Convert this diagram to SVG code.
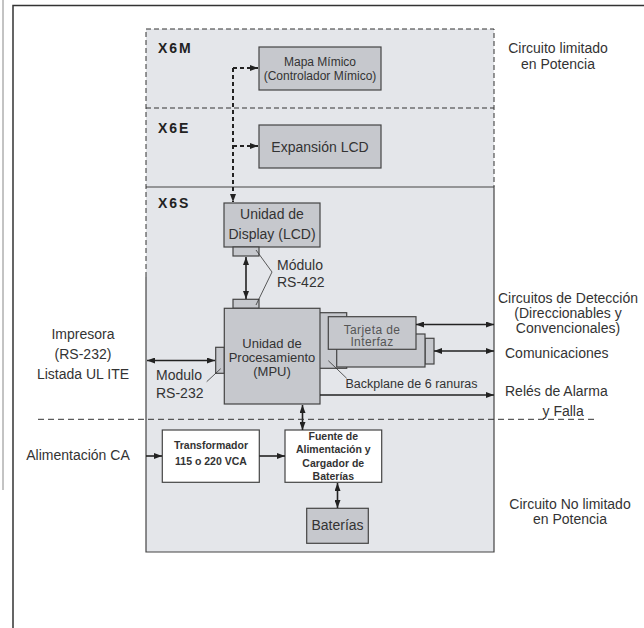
<svg xmlns="http://www.w3.org/2000/svg" width="644" height="628" viewBox="0 0 644 628">
<style>
.t{font-family:"Liberation Sans",Arial,sans-serif;fill:#333;font-size:14px}
.c{text-anchor:middle}
.b{font-weight:bold}
.xl{font-family:"Liberation Sans",Arial,sans-serif;font-weight:bold;font-size:14px;fill:#222;letter-spacing:2px}
.box{fill:#c6c8cd;stroke:#444;stroke-width:1.2}
.wbox{fill:#fff;stroke:#444;stroke-width:1.2}
.ln{stroke:#222;stroke-width:1.6;fill:none}
.thin{stroke:#333;stroke-width:0.8;fill:none}
.dsh{stroke:#333;stroke-width:1;stroke-dasharray:5 3;fill:none}
</style>
<defs>
<marker id="ah" viewBox="0 0 8 6" refX="8" refY="3" markerWidth="8" markerHeight="6" markerUnits="userSpaceOnUse" orient="auto-start-reverse">
<path d="M0,0 L8,3 L0,6 z" fill="#222"/>
</marker>
</defs>
<rect width="644" height="628" fill="#fff"/>
<line x1="3" y1="0" x2="3" y2="490" stroke="#888" stroke-width="1"/>
<path d="M13,628 V5.5 H644" fill="none" stroke="#333" stroke-width="1.5"/>

<g id="zones">
<rect x="146" y="29" width="348" height="158" fill="#e4e6ea"/>
<rect x="146" y="187" width="348" height="365" fill="#e4e6ea"/>
<path d="M146,277 V552 H494 V187 H146" fill="none" stroke="#444" stroke-width="1.2"/>
<path class="dsh" d="M146,277 V29 H494 V187"/>
<line class="dsh" x1="146" y1="108" x2="494" y2="108"/>
<text class="xl" x="158" y="53">X6M</text>
<text class="xl" x="158" y="133">X6E</text>
<text class="xl" x="158" y="207.5">X6S</text>
</g>

<g id="mapa">
<rect class="box" x="259" y="47" width="122" height="43"/>
<text class="t c" x="320" y="66" style="font-size:12px">Mapa Mímico</text>
<text class="t c" x="320" y="80" style="font-size:12px">(Controlador Mímico)</text>
</g>
<g id="expansion">
<rect class="box" x="259" y="125" width="122" height="43"/>
<text class="t c" x="320" y="151.5">Expansión LCD</text>
</g>
<g id="display">
<rect class="box" x="224" y="203" width="96" height="44"/>
<rect class="box" x="233" y="247" width="26" height="9"/>
<text class="t c" x="272" y="219">Unidad de</text>
<text class="t c" x="272" y="239">Display (LCD)</text>
</g>
<g id="cards">
<rect class="box" x="314" y="312.7" width="32.7" height="55.6"/>
<rect class="box" x="425" y="338.3" width="9" height="25.7"/>
<rect class="box" x="336.7" y="334" width="88.3" height="33"/>
<rect class="box" x="328.3" y="316.7" width="87.7" height="32.6"/>
<text class="t c" x="372" y="333.5" style="font-size:12px;fill:#555;letter-spacing:0.4px">Tarjeta de</text>
<text class="t c" x="372" y="346" style="font-size:12px;fill:#555;letter-spacing:0.4px">Interfaz</text>
</g>
<g id="mpu">
<rect class="box" x="233" y="299.3" width="26" height="9"/>
<rect class="box" x="215.7" y="347.3" width="8.6" height="26"/>
<rect class="box" x="224.3" y="308.3" width="95.7" height="95.7"/>
<text class="t c" x="272" y="347.5" style="font-size:13px">Unidad de</text>
<text class="t c" x="272" y="361.5" style="font-size:13px">Procesamiento</text>
<text class="t c" x="272" y="376" style="font-size:13px">(MPU)</text>
</g>
<g id="transformador">
<rect class="wbox" x="162.3" y="430" width="97" height="52.3"/>
<text class="t c b" x="211" y="449" style="font-size:10.5px">Transformador</text>
<text class="t c b" x="211" y="465" style="font-size:10.5px">115 o 220 VCA</text>
</g>
<g id="fuente">
<rect class="wbox" x="285" y="430" width="96.7" height="52.3"/>
<text class="t c b" x="333.3" y="439.5" style="font-size:10.5px">Fuente de</text>
<text class="t c b" x="333.3" y="453" style="font-size:10.5px">Alimentación y</text>
<text class="t c b" x="333.3" y="466.5" style="font-size:10.5px">Cargador de</text>
<text class="t c b" x="333.3" y="480" style="font-size:10.5px">Baterías</text>
</g>
<g id="baterias">
<rect class="box" x="306.7" y="508.3" width="61.6" height="35"/>
<text class="t c" x="337.5" y="530">Baterías</text>
</g>

<g id="connectors">
<path d="M233,68 V202" stroke="#222" stroke-width="2" stroke-dasharray="4 3" fill="none" marker-end="url(#ah)"/>
<path d="M233,68 H258" stroke="#222" stroke-width="2" stroke-dasharray="4 3" fill="none" marker-end="url(#ah)"/>
<path d="M233,146 H258" stroke="#222" stroke-width="2" stroke-dasharray="4 3" fill="none" marker-end="url(#ah)"/>
<line class="ln" x1="246" y1="257" x2="246" y2="299" stroke-width="2" marker-start="url(#ah)" marker-end="url(#ah)"/>
<line class="ln" x1="147" y1="360.5" x2="215" y2="360.5" marker-start="url(#ah)" marker-end="url(#ah)"/>
<line class="ln" x1="416" y1="324.5" x2="494" y2="324.5" marker-start="url(#ah)" marker-end="url(#ah)"/>
<line class="ln" x1="434" y1="351" x2="494" y2="351" marker-start="url(#ah)" marker-end="url(#ah)"/>
<line class="ln" x1="320" y1="395" x2="494" y2="395" marker-end="url(#ah)"/>
<line class="ln" x1="302.5" y1="405" x2="302.5" y2="430" marker-start="url(#ah)" marker-end="url(#ah)"/>
<line class="ln" x1="146" y1="456" x2="162" y2="456" marker-end="url(#ah)"/>
<line class="ln" x1="259.3" y1="456" x2="285" y2="456" marker-end="url(#ah)"/>
<line class="ln" x1="337.5" y1="483" x2="337.5" y2="508" marker-start="url(#ah)" marker-end="url(#ah)"/>
<path class="thin" d="M256,250 L272,272 L256,305"/>
<line class="thin" x1="206.7" y1="381.7" x2="220.7" y2="368.7"/>
<line class="thin" x1="328.3" y1="360.7" x2="346.7" y2="378.3"/>
<line x1="38" y1="419.3" x2="598" y2="419.3" stroke="#333" stroke-width="1" stroke-dasharray="6 4"/>
</g>

<g id="labels">
<text class="t c" x="558" y="52.5">Circuito limitado</text>
<text class="t c" x="558" y="69">en Potencia</text>
<text class="t" x="277" y="270">Módulo</text>
<text class="t" x="277" y="286.5">RS-422</text>
<text class="t c" x="83" y="339">Impresora</text>
<text class="t c" x="83" y="358.5">(RS-232)</text>
<text class="t c" x="83" y="378.5">Listada UL ITE</text>
<text class="t" x="156" y="380">Modulo</text>
<text class="t" x="156" y="398">RS-232</text>
<text class="t" x="345.5" y="388" style="font-size:12.5px">Backplane de 6 ranuras</text>
<text class="t c" x="568" y="303">Circuitos de Detección</text>
<text class="t c" x="568" y="318">(Direccionables y</text>
<text class="t c" x="568" y="333">Convencionales)</text>
<text class="t" x="505" y="357.5">Comunicaciones</text>
<text class="t" x="505" y="396">Relés de Alarma</text>
<text class="t" x="542.5" y="415.5">y Falla</text>
<text class="t c" x="78" y="460">Alimentación CA</text>
<text class="t c" x="570" y="509">Circuito No limitado</text>
<text class="t c" x="570" y="524">en Potencia</text>
</g>
</svg>
